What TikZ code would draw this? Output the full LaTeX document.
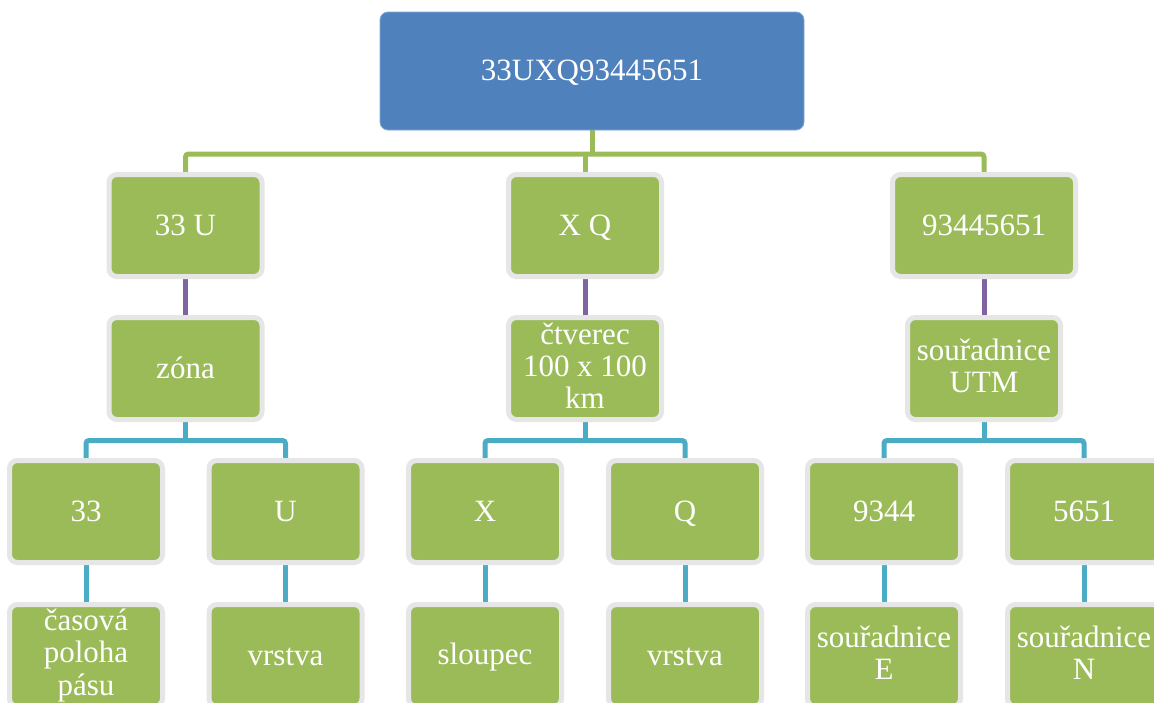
\documentclass[tikz,border=0pt]{standalone}
\usepackage{fontspec}
\setmainfont{Liberation Serif}
\usetikzlibrary{backgrounds}
\definecolor{topblue}{HTML}{4F81BD}
\definecolor{sgreen}{HTML}{9BBB59}
\definecolor{ring}{HTML}{E6E6E6}
\definecolor{spurple}{HTML}{8064A2}
\definecolor{steal}{HTML}{4BACC6}
\newcommand{\boxfont}{\fontsize{31}{32}\selectfont}
\newcommand{\mystrut}{\rule[-6.5pt]{0pt}{32pt}}
\tikzset{
  topbox/.style={rectangle, rounded corners=8, fill=topblue, draw=topblue!70!white, line width=0.8,
    minimum width=424, minimum height=118, inner sep=0, text=white, font=\boxfont,
    execute at begin node=\mystrut},
  gbox/.style={rectangle, rounded corners=8, fill=sgreen, draw=ring, line width=5,
    minimum width=153, minimum height=102, inner sep=0, text=white, align=center, font=\boxfont,
    execute at begin node=\mystrut},
  gline/.style={draw=sgreen, line width=5, rounded corners=3},
  pline/.style={draw=spurple, line width=5},
  tline/.style={draw=steal, line width=5, rounded corners=3},
}
\begin{document}
\begin{tikzpicture}[x=1pt,y=-1pt]
\useasboundingbox (0,0) rectangle (1154,702);
\clip (0,0) rectangle (1154,702);
\node[topbox] (top) at (592,71) {33UXQ93445651};

\node[gbox] (l2a) at (185.5,225.5) {33 U};
\node[gbox] (l2b) at (585,225.5) {X Q};
\node[gbox, minimum width=183] (l2c) at (984,225.5) {93445651};

\node[gbox] (l3a) at (185.5,368.5) {zóna};
\node[gbox] (l3b) at (585,368.5) {čtverec\\\mystrut 100 x 100\\\mystrut km};
\node[gbox] (l3c) at (984,368.5) {souřadnice\\\mystrut UTM};

\node[gbox] (l4a) at (86,511.5) {33};
\node[gbox] (l4b) at (285.5,511.5) {U};
\node[gbox] (l4c) at (485,511.5) {X};
\node[gbox] (l4d) at (685,511.5) {Q};
\node[gbox] (l4e) at (884,511.5) {9344};
\node[gbox] (l4f) at (1084,511.5) {5651};

\node[gbox] (l5a) at (86,655.5) {časová\\\mystrut poloha\\\mystrut pásu};
\node[gbox] (l5b) at (285.5,655.5) {vrstva};
\node[gbox] (l5c) at (485,655.5) {sloupec};
\node[gbox] (l5d) at (685,655.5) {vrstva};
\node[gbox] (l5e) at (884,655.5) {souřadnice\\\mystrut E};
\node[gbox] (l5f) at (1084,655.5) {souřadnice\\\mystrut N};

\coordinate (g) at (592,154);
\coordinate (b1) at (185.5,440.5);
\coordinate (b2) at (585,440.5);
\coordinate (b3) at (984,440.5);

\begin{scope}[on background layer]
\fill[white] (0,0) rectangle (1154,702);
\draw[gline] (top.south) -- (g);
\draw[gline] (l2a.north) |- (g) -| (l2c.north);
\draw[gline] (l2b.north) -- (l2b.north |- g);

\draw[pline] (l2a.south) -- (l3a.north);
\draw[pline] (l2b.south) -- (l3b.north);
\draw[pline] (l2c.south) -- (l3c.north);

\draw[tline] (l3a.south) -- (b1);
\draw[tline] (l4a.north) |- (b1) -| (l4b.north);
\draw[tline] (l3b.south) -- (b2);
\draw[tline] (l4c.north) |- (b2) -| (l4d.north);
\draw[tline] (l3c.south) -- (b3);
\draw[tline] (l4e.north) |- (b3) -| (l4f.north);

\draw[tline] (l4a.south) -- (l5a.north);
\draw[tline] (l4b.south) -- (l5b.north);
\draw[tline] (l4c.south) -- (l5c.north);
\draw[tline] (l4d.south) -- (l5d.north);
\draw[tline] (l4e.south) -- (l5e.north);
\draw[tline] (l4f.south) -- (l5f.north);
\end{scope}
\end{tikzpicture}
\end{document}
